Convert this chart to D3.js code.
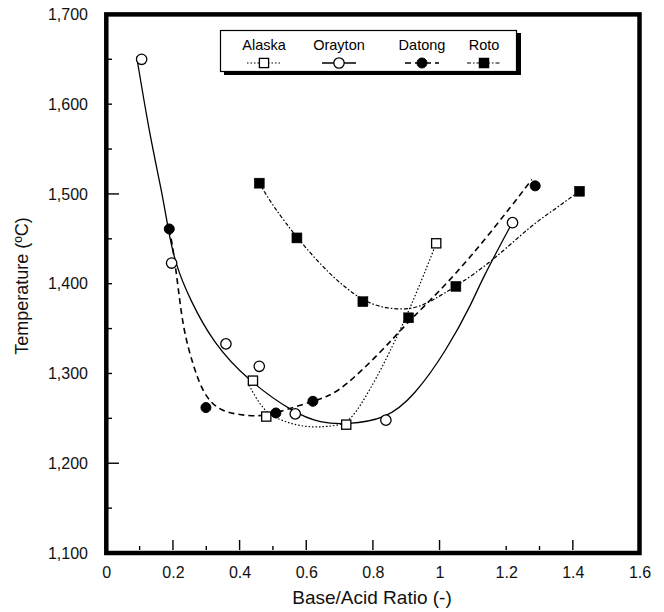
<!DOCTYPE html>
<html>
<head>
<meta charset="utf-8">
<script src="https://cdn.jsdelivr.net/npm/d3@7"></script>
<style>
html,body{margin:0;padding:0;background:#fff;}
svg{display:block;font-family:Arial,"Liberation Sans",sans-serif;}
</style>
</head>
<body>
<svg id="chart" width="664" height="612"></svg>
<script>
// ---- data ----
const seriesNames = ["Alaska", "Orayton", "Datong", "Roto"];

const alaskaX = [0.44, 0.48, 0.72, 0.99];
const alaskaY = [1292, 1252, 1243, 1445];
const oraytonX = [0.106, 0.196, 0.359, 0.459, 0.567, 0.839, 1.219];
const oraytonY = [1650, 1423, 1333, 1308, 1255, 1248, 1468];
const datongX = [0.189, 0.299, 0.509, 0.62, 1.287];
const datongY = [1461, 1262, 1256, 1269, 1509];
const rotoX = [0.459, 0.572, 0.77, 0.907, 1.049, 1.42];
const rotoY = [1512, 1451, 1380, 1362, 1397, 1503];

// fitted trend curves
const alaskaFitX = [0.428, 0.473, 0.523, 0.573, 0.623, 0.66, 0.72, 0.76, 0.825, 0.91, 0.987];
const alaskaFitY = [1287, 1257, 1248, 1242, 1240, 1241, 1243, 1262, 1304, 1370, 1442];
const oraytonFitX = [0.091, 0.131, 0.166, 0.186, 0.206, 0.251, 0.321, 0.422, 0.567, 0.642, 0.719, 0.839, 0.922, 1.022, 1.102, 1.122, 1.218];
const oraytonFitY = [1653, 1564, 1504, 1460, 1423, 1382, 1334, 1293, 1255, 1245, 1243, 1249, 1274, 1326, 1382, 1401, 1468];
const datongFitX = [0.189, 0.2, 0.216, 0.231, 0.261, 0.291, 0.332, 0.392, 0.462, 0.509, 0.621, 0.662, 0.712, 0.822, 0.902, 0.952, 1.042, 1.152, 1.277];
const datongFitY = [1461, 1440, 1395, 1349, 1308, 1278, 1260, 1254, 1252, 1256, 1269, 1274, 1284, 1323, 1356, 1374, 1408, 1456, 1516];
const rotoFitX = [0.459, 0.501, 0.572, 0.672, 0.77, 0.842, 0.922, 0.982, 1.049, 1.152, 1.272, 1.342, 1.42];
const rotoFitY = [1512, 1486, 1451, 1409, 1380, 1372, 1371, 1382, 1397, 1423, 1464, 1482, 1503];

const xTicks = [0, 0.2, 0.4, 0.6, 0.8, 1, 1.2, 1.4, 1.6];
const yTicks = [1100, 1200, 1300, 1400, 1500, 1600, 1700];
const xMajorMarks = [0.2, 0.4, 0.6, 0.8, 1.0, 1.4];
const xMinorMarks = [0.1, 0.3, 0.5, 1.2, 1.3];
const yMajorMarks = [1200, 1500];
const yMinorMarks = [1150, 1250, 1300, 1350, 1400, 1450, 1550, 1600, 1650];

// ---- drawing ----
const svg = d3.select("#chart");
const x = d3.scaleLinear().domain([0, 1.6]).range([106.3, 639.5]);
const y = d3.scaleLinear().domain([1100, 1700]).range([553, 14.4]);

const zip = (xs, ys) => xs.map((v, i) => [v, ys[i]]);

const series = [
  {name: "Alaska", pts: zip(alaskaX, alaskaY), fit: zip(alaskaFitX, alaskaFitY), marker: "sq", filled: false, dash: "1.5,2", width: 1.2},
  {name: "Orayton", pts: zip(oraytonX, oraytonY), fit: zip(oraytonFitX, oraytonFitY), marker: "ci", filled: false, dash: null, width: 1.3},
  {name: "Datong", pts: zip(datongX, datongY), fit: zip(datongFitX, datongFitY), marker: "ci", filled: true, dash: "6,4", width: 1.6},
  {name: "Roto", pts: zip(rotoX, rotoY), fit: zip(rotoFitX, rotoFitY), marker: "sq", filled: true, dash: "4,2,1.5,2", width: 1.2}
];

// axis ticks and labels via d3 axes
const yAxis = d3.axisLeft(y).tickValues(yTicks).tickFormat(d3.format(",")).tickSize(0).tickPadding(0);
const gy = svg.append("g").attr("transform", "translate(88,0)").call(yAxis);
gy.select(".domain").remove();
gy.selectAll("text").attr("font-size", 16).attr("font-family", "Arial, 'Liberation Sans', sans-serif").attr("fill", "#111").attr("x", 0);

const xAxis = d3.axisBottom(x).tickValues(xTicks).tickFormat(d => d3.format("")(d)).tickSize(0).tickPadding(0);
const gx = svg.append("g").attr("transform", "translate(0,567)").call(xAxis);
gx.select(".domain").remove();
gx.selectAll("text").attr("font-size", 16).attr("font-family", "Arial, 'Liberation Sans', sans-serif").attr("fill", "#111").attr("dy", "0.71em");

// inner tick marks
const marks = svg.append("g").attr("stroke", "#000").attr("stroke-width", 1.4);
marks.selectAll(".xmaj").data(xMajorMarks).join("line")
  .attr("x1", d => x(d)).attr("x2", d => x(d)).attr("y1", 550).attr("y2", 540);
marks.selectAll(".xmin").data(xMinorMarks).join("line")
  .attr("x1", d => x(d)).attr("x2", d => x(d)).attr("y1", 550).attr("y2", 546);
marks.selectAll(".ymaj").data(yMajorMarks).join("line")
  .attr("x1", 108).attr("x2", 119).attr("y1", d => y(d)).attr("y2", d => y(d));
marks.selectAll(".ymin").data(yMinorMarks).join("line")
  .attr("x1", 108).attr("x2", 112).attr("y1", d => y(d)).attr("y2", d => y(d));

// frame
svg.append("rect")
  .attr("x", x(0)).attr("y", y(1700))
  .attr("width", x(1.6) - x(0)).attr("height", y(1100) - y(1700))
  .attr("fill", "none").attr("stroke", "#000").attr("stroke-width", 4.5);

// axis titles
svg.append("text").attr("x", 372).attr("y", 604).attr("text-anchor", "middle")
  .attr("font-size", 19).attr("fill", "#111").text("Base/Acid Ratio (-)");
svg.append("text").attr("transform", "translate(28,286) rotate(-90)").attr("text-anchor", "middle")
  .attr("font-size", 18).attr("fill", "#111").text("Temperature (\u00BAC)");

// curves
const line = d3.line().x(d => x(d[0])).y(d => y(d[1])).curve(d3.curveBasis);
const plot = svg.append("g");
series.forEach(s => {
  plot.append("path").attr("d", line(s.fit)).attr("fill", "none")
    .attr("stroke", "#000").attr("stroke-width", s.width)
    .attr("stroke-dasharray", s.dash);
});

function drawMarker(g, s, cx, cy) {
  if (s.marker === "ci") {
    g.append("circle").attr("cx", cx).attr("cy", cy).attr("r", s.filled ? 5 : 5.2)
      .attr("fill", s.filled ? "#000" : "#fff").attr("stroke", "#000").attr("stroke-width", s.filled ? 1 : 1.3);
  } else {
    const h = s.filled ? 5 : 4.6;
    g.append("rect").attr("x", cx - h).attr("y", cy - h).attr("width", 2 * h).attr("height", 2 * h)
      .attr("fill", s.filled ? "#000" : "#fff").attr("stroke", "#000").attr("stroke-width", s.filled ? 0.5 : 1.3);
  }
}
series.forEach(s => {
  s.pts.forEach(p => drawMarker(plot, s, x(p[0]), y(p[1])));
});

// legend
const lg = svg.append("g");
lg.append("rect").attr("x", 224).attr("y", 33).attr("width", 297).attr("height", 42).attr("fill", "#000");
lg.append("rect").attr("x", 220.5).attr("y", 30.5).attr("width", 296).attr("height", 41)
  .attr("fill", "#fff").attr("stroke", "#000").attr("stroke-width", 1.2);
const legendCx = [264, 339, 422, 484];
series.forEach((s, i) => {
  const cx = legendCx[i];
  lg.append("text").attr("x", cx).attr("y", 50).attr("text-anchor", "middle")
    .attr("font-size", 14.5).attr("fill", "#000").text(s.name);
  lg.append("line").attr("x1", cx - 17).attr("x2", cx + 17).attr("y1", 63).attr("y2", 63)
    .attr("stroke", "#000").attr("stroke-width", s.width).attr("stroke-dasharray", s.dash);
  drawMarker(lg, s, cx, 63);
});
</script>
</body>
</html>
